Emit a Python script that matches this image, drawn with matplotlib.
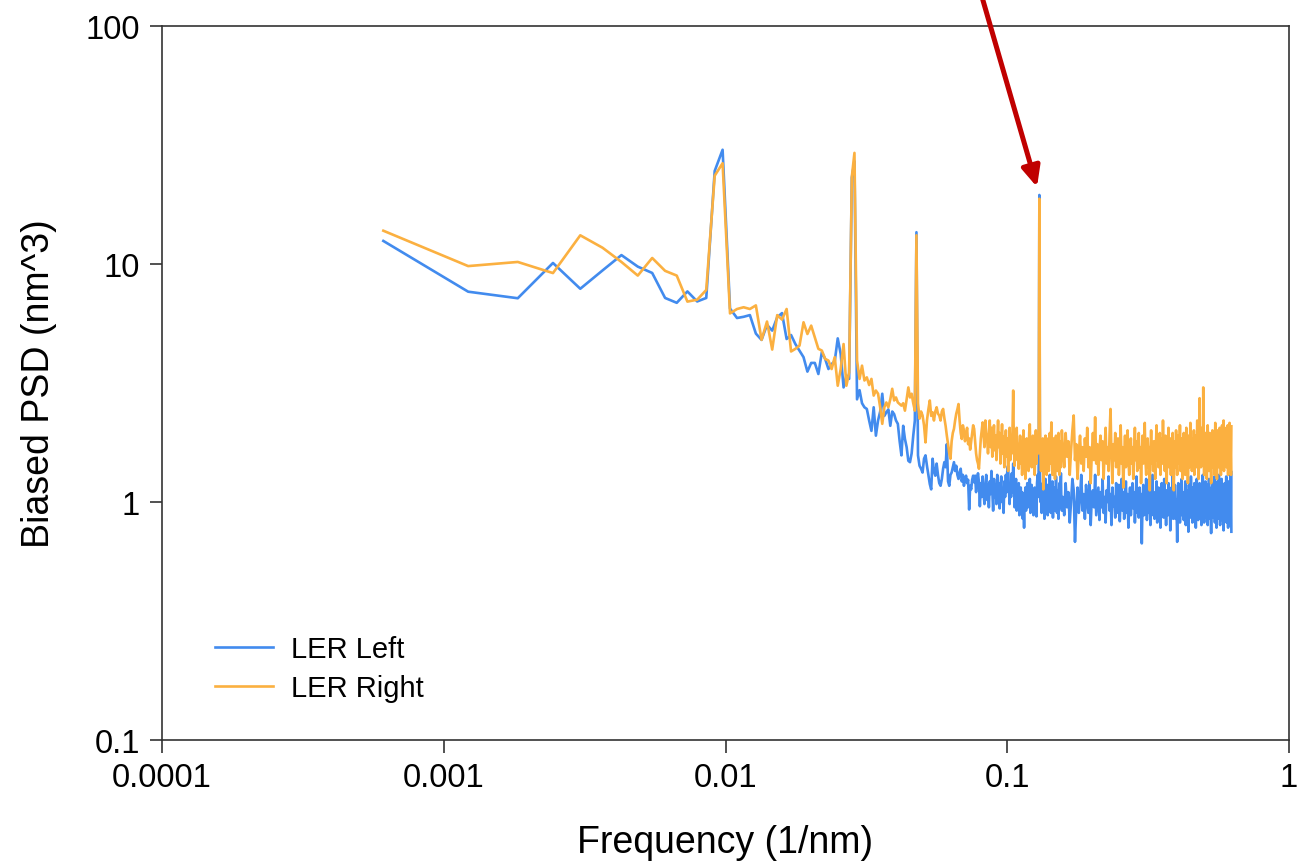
import numpy as np
import matplotlib
matplotlib.use("Agg")
import matplotlib.pyplot as plt

plt.rcParams['font.family'] = ['Liberation Sans', 'DejaVu Sans']

# ---------------- data ----------------
df = 1 / 1638.4  # frequency step (1/nm)

# LER Left, k = 1..256 (every frequency bin)
left_low = [
    12.5, 7.65, 7.18, 10.1, 7.87, 9.4, 10.9, 9.75, 9.17, 7.2,
    6.87, 7.67, 6.96, 7.2, 24.6, 30.2, 6.5, 5.93, 6.0, 6.1,
    5.1, 4.8, 5.55, 5.25, 5.97, 6.22, 4.84, 5.03, 4.61, 4.32,
    4.06, 3.53, 3.84, 3.84, 3.45, 4.26, 3.99, 3.62, 3.8, 3.9,
    4.87, 4.19, 3.03, 3.4, 3.29, 23.0, 27.0, 2.7, 2.95, 2.6,
    2.5, 2.46, 2.2, 1.99, 2.5, 1.9, 2.2, 2.4, 2.85, 2.3,
    2.38, 2.45, 2.09, 2.4, 2.34, 2.2, 2.13, 1.8, 1.57, 2.09,
    1.84, 1.7, 1.49, 1.47, 1.6, 1.9, 2.2, 13.6, 1.57, 1.42,
    1.38, 1.33, 1.52, 1.57, 1.42, 1.3, 1.19, 1.13, 1.52, 1.35,
    1.29, 1.45, 1.3, 1.2, 1.17, 1.25, 1.38, 1.47, 1.4, 1.75,
    1.22, 1.17, 1.3, 1.33, 1.4, 1.47, 1.35, 1.42, 1.3, 1.25,
    1.33, 1.38, 1.22, 1.3, 1.17, 1.25, 1.29, 1.2, 1.24, 0.93,
    1.17, 1.13, 1.24, 1.29, 1.21, 1.29, 1.1, 1.25, 1.32, 1.21,
    0.96, 1.2, 1.05, 1.28, 1.1, 0.98, 1.15, 1.3, 1.02, 1.18,
    0.95, 1.22, 1.08, 1.35, 1.12, 0.92, 1.25, 1.05, 1.18, 0.98,
    1.3, 1.1, 1.2, 0.94, 1.15, 1.28, 1.0, 1.12, 0.9, 1.22,
    1.05, 1.3, 1.1, 1.38, 1.42, 1.15, 0.98, 1.2, 1.05, 1.32,
    1.1, 1.45, 1.18, 0.95, 1.08, 1.25, 0.92, 1.12, 1.0, 1.2,
    0.88, 1.05, 1.15, 0.9, 1.1, 0.85, 0.98, 0.78, 1.02, 1.15,
    0.92, 1.08, 1.2, 0.95, 1.12, 1.0, 1.25, 0.9, 1.05, 1.18,
    0.95, 1.1, 0.88, 1.0, 1.15, 0.92, 1.05, 0.87, 1.2, 1.3,
    1.05, 1.5, 19.5, 1.3, 1.0, 1.12, 0.9, 1.05, 1.2, 0.95,
    1.1, 0.85, 1.02, 1.25, 0.92, 1.08, 1.18, 0.88, 1.0, 1.15,
    0.95, 1.3, 1.05, 0.9, 1.12, 1.0, 1.22, 0.86, 1.05, 1.15,
    0.92, 1.1, 0.98, 1.28, 1.05, 0.9, 1.12, 1.0, 0.85, 1.08,
    1.2, 0.95, 1.1, 1.32, 1.0, 0.92,
]

# LER Right, k = 1..256
right_low = [
    13.8, 9.8, 10.2, 9.16, 13.2, 11.7, 10.2, 8.94, 10.6, 9.36,
    8.94, 6.95, 7.08, 7.78, 23.5, 26.5, 6.2, 6.47, 6.58, 6.47,
    6.7, 4.8, 5.73, 4.37, 6.1, 5.84, 6.47, 4.29, 4.4, 4.54,
    5.69, 5.08, 5.51, 4.92, 4.4, 4.33, 3.99, 3.93, 3.62, 4.06,
    3.08, 3.62, 4.61, 3.08, 3.5, 23.2, 29.3, 3.93, 3.29, 3.74,
    3.24, 3.34, 3.1, 3.29, 2.8, 2.94, 2.85, 2.5, 2.13, 2.5,
    2.62, 2.5, 2.7, 2.99, 2.67, 2.75, 2.62, 2.58, 2.54, 2.6,
    2.42, 2.7, 3.03, 2.75, 2.85, 2.6, 2.42, 13.2, 2.6, 2.24,
    2.4, 2.31, 2.1, 1.78, 2.2, 2.45, 2.67, 2.3, 2.38, 2.2,
    2.4, 2.5, 2.35, 2.31, 2.2, 2.4, 2.46, 2.25, 2.09, 1.9,
    1.75, 1.6, 1.52, 1.8, 1.95, 2.03, 2.2, 2.35, 2.45, 2.58,
    2.2, 1.95, 1.84, 2.1, 2.0, 1.8, 1.9, 2.05, 1.75, 1.85,
    1.66, 1.8, 1.95, 2.1, 2.03, 1.8, 1.6, 1.5, 1.45, 1.38,
    1.6, 1.85, 2.0, 2.16, 1.9, 1.7, 2.2, 1.95, 1.84, 1.6,
    1.9, 2.2, 1.7, 2.05, 1.55, 1.85, 2.1, 1.65, 1.9, 1.5,
    1.8, 2.2, 1.7, 1.95, 1.45, 1.75, 2.12, 1.6, 1.88, 1.4,
    1.7, 2.0, 1.55, 1.85, 1.35, 1.65, 2.05, 1.5, 1.8, 1.6,
    2.0, 2.94, 1.7, 1.42, 1.85, 1.6, 2.05, 1.5, 1.75, 1.38,
    1.65, 1.9, 1.45, 1.8, 1.3, 1.6, 2.0, 1.5, 1.75, 1.25,
    1.55, 1.85, 1.45, 1.7, 1.35, 1.95, 2.12, 1.55, 1.8, 1.4,
    1.65, 1.9, 1.5, 1.75, 1.3, 1.6, 2.0, 1.45, 1.7, 1.9,
    1.6, 2.0, 18.8, 2.1, 1.6, 1.35, 1.7, 1.5, 1.85, 1.13,
    1.55, 1.75, 1.4, 1.9, 1.55, 1.3, 1.7, 1.5, 1.85, 1.35,
    1.65, 1.95, 1.45, 1.7, 2.16, 1.5, 1.3, 1.6, 1.85, 1.4,
    1.75, 1.25, 1.55, 1.9, 1.45, 1.7, 1.35, 1.6, 1.95, 1.5,
    1.3, 1.65, 1.8, 1.4, 1.7, 2.0,
]

# High-frequency part, k = 258, 261, ..., 1023
k_high_start, k_high_step = 258, 3
left_high = [
    1.05, 0.88, 1.2, 0.95, 1.1, 0.82, 1.0, 1.25, 1.12, 0.68, 0.95, 1.15, 0.9, 1.05, 1.3, 0.92,
    1.08, 0.85, 1.18, 1.0, 0.9, 1.22, 0.8, 1.05, 1.12, 0.95, 1.3, 0.88, 1.0, 1.15, 0.84, 1.1,
    0.95, 1.25, 0.9, 1.05, 0.82, 1.12, 1.0, 1.28, 0.92, 1.08, 0.8, 1.15, 0.96, 1.05, 0.86, 1.2,
    1.0, 0.9, 1.18, 0.83, 1.05, 1.25, 0.92, 1.1, 0.85, 1.0, 1.22, 0.9, 1.08, 0.78, 1.0, 1.15,
    0.88, 1.05, 1.2, 0.94, 1.1, 0.82, 1.0, 1.28, 0.9, 1.05, 0.86, 1.15, 0.95, 1.08, 0.67, 1.0,
    1.18, 0.88, 1.05, 0.92, 1.25, 0.84, 1.0, 1.12, 0.9, 1.2, 0.8, 1.05, 0.96, 1.3, 0.88, 1.02,
    0.85, 1.1, 0.95, 1.22, 0.82, 1.0, 1.15, 0.9, 1.08, 0.78, 1.05, 1.2, 0.92, 1.0, 0.86, 1.25,
    0.95, 1.08, 0.8, 1.12, 1.0, 0.88, 1.2, 0.94, 1.05, 0.76, 1.0, 1.15, 0.9, 1.3, 0.85, 1.05,
    0.98, 1.18, 0.85, 1.02, 0.92, 0.68, 1.0, 1.2, 0.9, 1.08, 0.82, 1.15, 0.95, 1.25, 0.88, 1.0,
    1.1, 0.84, 1.05, 0.93, 1.22, 0.8, 1.0, 1.12, 0.88, 1.05, 0.75, 1.18, 0.95, 1.08, 0.86, 1.28,
    0.92, 1.05, 0.82, 1.15, 1.0, 0.88, 1.2, 0.9, 1.1, 0.78, 1.02, 1.25, 0.9, 1.05, 0.84, 1.12,
    0.96, 1.2, 0.85, 1.0, 1.1, 0.8, 1.15, 0.92, 1.3, 0.88, 1.05, 0.82, 1.12, 0.95, 1.22, 0.86,
    1.02, 0.9, 1.18, 0.8, 1.05, 0.95, 1.25, 0.85, 1.1, 0.92, 1.0, 0.74, 1.15, 0.9, 1.05, 1.2,
    0.86, 1.02, 0.95, 1.28, 0.82, 1.08, 0.9, 1.15, 0.78, 1.0, 1.22, 0.88, 1.05, 0.93, 1.3, 0.85,
    1.08, 0.8, 1.12, 0.95, 1.0, 1.25, 0.84, 1.05, 0.9, 1.18, 0.76, 1.02, 0.92, 1.2, 0.86, 1.1,
    0.95, 1.28, 0.82, 1.05, 0.9, 1.15, 0.78, 1.0, 1.22, 0.88, 1.1, 0.8, 1.3, 0.85, 1.35, 0.75,
]
right_high = [
    1.7, 1.4, 1.95, 1.55, 1.8, 1.3, 1.65, 2.0, 2.31, 1.5, 1.75, 1.25, 1.6, 1.9, 1.45, 1.7,
    1.35, 1.85, 1.55, 2.05, 1.4, 1.7, 1.2, 1.6, 1.95, 1.5, 2.27, 1.45, 1.75, 1.3, 1.65, 1.9,
    1.5, 1.8, 1.25, 1.6, 2.05, 1.45, 1.7, 1.35, 1.9, 2.46, 1.55, 1.2, 1.75, 1.5, 1.95, 1.4,
    1.65, 1.85, 1.3, 1.6, 2.1, 1.45, 1.7, 1.15, 1.55, 1.9, 1.4, 1.75, 2.0, 1.5, 1.3, 1.65,
    1.85, 1.45, 1.7, 1.25, 1.6, 2.05, 1.5, 1.8, 1.35, 1.65, 1.95, 1.4, 1.7, 1.2, 1.55, 1.9,
    1.45, 1.75, 2.15, 1.5, 1.3, 1.65, 1.85, 1.4, 1.7, 1.12, 1.6, 2.0, 1.45, 1.75, 1.35, 1.8,
    1.55, 1.25, 1.7, 2.1, 1.5, 1.8, 1.4, 1.65, 1.95, 1.3, 1.6, 1.85, 1.45, 2.2, 1.5, 1.7,
    1.35, 1.9, 1.6, 1.2, 1.75, 1.5, 2.05, 1.4, 1.65, 1.85, 1.3, 1.7, 1.55, 1.95, 1.45, 1.12,
    1.6, 1.8, 1.4, 2.0, 1.55, 1.3, 1.75, 1.9, 1.45, 1.65, 2.1, 1.35, 1.7, 1.5, 1.85, 1.25,
    1.6, 1.95, 1.45, 1.75, 1.3, 1.65, 2.05, 1.5, 1.8, 1.2, 1.55, 1.9, 1.4, 1.7, 2.15, 1.45,
    1.75, 1.35, 1.6, 1.85, 1.5, 2.0, 1.3, 1.7, 1.55, 1.9, 1.4, 1.65, 2.2, 1.45, 1.8, 1.25,
    1.6, 2.73, 1.5, 1.85, 1.4, 1.7, 2.05, 1.55, 1.45, 3.03, 1.6, 1.3, 1.8, 1.5, 1.95, 1.4,
    1.7, 1.25, 1.65, 2.1, 1.5, 1.8, 1.35, 1.75, 1.95, 1.45, 1.6, 1.2, 1.85, 1.55, 2.0, 1.4,
    1.7, 1.5, 1.9, 1.3, 1.65, 2.15, 1.45, 1.8, 1.55, 1.25, 1.75, 2.0, 1.5, 1.85, 1.4, 1.65,
    2.05, 1.45, 1.7, 1.3, 1.9, 1.55, 2.1, 1.4, 1.75, 1.6, 2.2, 1.35, 1.8, 1.5, 1.95, 1.45,
    1.7, 2.05, 1.4, 1.85, 1.55, 2.1, 1.3, 1.75, 1.95, 1.5, 2.15, 1.4, 1.85, 1.6, 1.3, 2.08,
]

series_names = ['LER Left', 'LER Right']
series_colors = ['#428BEE', '#FBB040']
x_ticks = [1e-4, 1e-3, 1e-2, 1e-1, 1]
x_tick_labels = ['0.0001', '0.001', '0.01', '0.1', '1']
y_ticks = [0.1, 1, 10, 100]
y_tick_labels = ['0.1', '1', '10', '100']


def freq_of(low, high):
    f_low = df * np.arange(1, len(low) + 1)
    f_high = df * (k_high_start + k_high_step * np.arange(len(high)))
    return np.concatenate([f_low, f_high]), np.concatenate([low, high])


# ---------------- figure ----------------
W, H = 1309, 862
fig = plt.figure(figsize=(W / 100, H / 100), dpi=100)
ax = fig.add_axes([162 / W, 1 - 741 / H, (1289 - 162) / W, (741 - 27) / H])

fl, vl = freq_of(left_low, left_high)
fr, vr = freq_of(right_low, right_high)
ax.plot(fl, vl, color=series_colors[0], lw=1.9, label=series_names[0], zorder=2)
ax.plot(fr, vr, color=series_colors[1], lw=1.9, label=series_names[1], zorder=3)

ax.set_xscale('log')
ax.set_yscale('log')
ax.set_xlim(1e-4, 1)
ax.set_ylim(0.1, 100)
ax.set_xticks(x_ticks, x_tick_labels)
ax.set_yticks(y_ticks, y_tick_labels)
ax.minorticks_off()

for sp in ax.spines.values():
    sp.set_color('#333333')
    sp.set_linewidth(1.2)
ax.tick_params(axis='both', which='major', direction='out', length=9, width=1.2,
               color='#333333', labelsize=23.5, labelcolor='black')
ax.tick_params(axis='x', pad=7)
ax.tick_params(axis='y', pad=7)

ax.set_xlabel('Frequency (1/nm)', fontsize=27, labelpad=22)
ax.set_ylabel('Biased PSD (nm^3)', fontsize=27, labelpad=20)

leg = ax.legend(loc='center left', bbox_to_anchor=(215 / W, 1 - 669.5 / H),
                bbox_transform=fig.transFigure, frameon=False, fontsize=21,
                handlelength=2.0, handletextpad=0.6, labelspacing=0.36,
                borderpad=0, borderaxespad=0)
for line in leg.get_lines():
    line.set_linewidth(1.9)

# red arrow pointing to the peak near 0.13 1/nm
ax.annotate('', xy=(1037, H - 188), xycoords='figure pixels',
            xytext=(982, H + 2), textcoords='figure pixels',
            arrowprops=dict(arrowstyle='-|>,head_length=12,head_width=5.5',
                            mutation_scale=1, lw=3.6, color='#C00000',
                            shrinkA=0, shrinkB=0),
            annotation_clip=False)

fig.savefig('out.png', dpi=100)
